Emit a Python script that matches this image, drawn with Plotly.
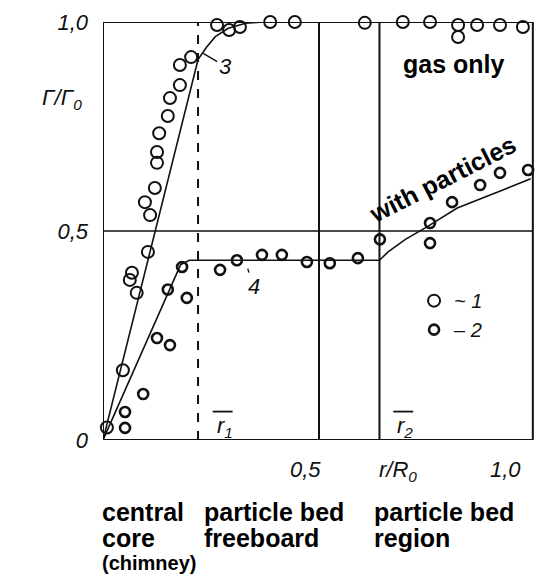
import plotly.graph_objects as go

# ---- data ----
gas_x = [0.009, 0.046, 0.062, 0.067, 0.078, 0.104, 0.097, 0.109, 0.120, 0.125, 0.125,
         0.130, 0.150, 0.155, 0.178, 0.178, 0.204,
         0.264, 0.292, 0.317, 0.359, 0.387, 0.417, 0.444, 0.479, 0.514, 0.542, 0.572,
         0.606, 0.637, 0.694, 0.757, 0.822, 0.822, 0.866, 0.919, 0.972]
gas_y = [0.030, 0.167, 0.383, 0.400, 0.352, 0.450, 0.569, 0.538, 0.603, 0.663, 0.689,
         0.734, 0.775, 0.818, 0.849, 0.897, 0.916,
         0.993, 0.981, 0.988, 1.005, 1.000, 1.017, 1.000, 1.005, 1.005, 1.005, 1.005,
         0.998, 1.010, 1.000, 1.000, 0.993, 0.964, 0.993, 0.993, 0.988]

part_x = [0.051, 0.051, 0.093, 0.125, 0.155, 0.150, 0.183, 0.194, 0.271, 0.310, 0.368,
          0.414, 0.472, 0.525, 0.590, 0.641, 0.757, 0.757, 0.808, 0.873, 0.919, 0.984]
part_y = [0.029, 0.067, 0.110, 0.244, 0.227, 0.360, 0.414, 0.340, 0.407, 0.430, 0.443,
          0.443, 0.426, 0.423, 0.435, 0.480, 0.471, 0.519, 0.569, 0.610, 0.639, 0.646]

# fitted curves "3" (gas only) and "4" (with particles)
curve3_x = [0.0, 0.22, 0.24, 0.26, 0.29, 0.33, 0.37]
curve3_y = [0.0, 0.91, 0.94, 0.965, 0.985, 0.997, 1.0]

curve4_x = [0.0, 0.18, 0.20, 0.64, 0.66, 0.70, 0.75, 0.82, 0.93, 0.99]
curve4_y = [0.0, 0.42, 0.43, 0.43, 0.45, 0.48, 0.51, 0.555, 0.60, 0.625]

r1 = 0.22
r2 = 0.64
x_mid = 0.5
x_right = 0.995
y_half = 0.5

ytick_vals = [0, 0.5, 1.0]
ytick_text = ["0", "0,5", "1,0"]
xtick_vals = [0.5, 1.0]
xtick_text = ["0,5", "1,0"]

series_names = ["~ 1", "– 2"]

INK = "#111111"
FONT = "Liberation Sans"

fig = go.Figure()

fig.add_trace(go.Scatter(x=curve3_x, y=curve3_y, mode="lines", line=dict(color=INK, width=1.6),
                         showlegend=False, hoverinfo="skip", cliponaxis=False))
fig.add_trace(go.Scatter(x=curve4_x, y=curve4_y, mode="lines", line=dict(color=INK, width=1.6),
                         showlegend=False, hoverinfo="skip", cliponaxis=False))

fig.add_trace(go.Scatter(x=gas_x, y=gas_y, mode="markers", name=series_names[0],
                         marker=dict(symbol="circle-open", size=12, color=INK, line=dict(width=2)),
                         cliponaxis=False))
fig.add_trace(go.Scatter(x=part_x, y=part_y, mode="markers", name=series_names[1],
                         marker=dict(symbol="circle-open", size=10, color=INK, line=dict(width=2.6)),
                         cliponaxis=False))

# frame and region lines
line_style = dict(color=INK, width=2)
shapes = [
    dict(type="line", x0=0, x1=0, y0=0, y1=1, line=line_style),
    dict(type="line", x0=0, x1=x_right, y0=0, y1=0, line=line_style),
    dict(type="line", x0=0, x1=x_right, y0=1, y1=1, line=line_style),
    dict(type="line", x0=x_right, x1=x_right, y0=0, y1=1, line=line_style),
    dict(type="line", x0=r1, x1=r1, y0=0, y1=1, line=dict(color=INK, width=2, dash="dash")),
    dict(type="line", x0=x_mid, x1=x_mid, y0=0, y1=1, line=line_style),
    dict(type="line", x0=r2, x1=r2, y0=0, y1=1, line=line_style),
    dict(type="line", x0=0, x1=x_right, y0=y_half, y1=y_half, line=dict(color=INK, width=1.5)),
    # overbars of the r1 / r2 labels
    dict(type="line", x0=0.254, x1=0.300, y0=0.068, y1=0.068, line=dict(color=INK, width=1.8)),
    dict(type="line", x0=0.672, x1=0.718, y0=0.068, y1=0.068, line=dict(color=INK, width=1.8)),
]

ital = dict(family=FONT, size=22, color=INK)
bold = dict(family=FONT, size=25, color="black")

annotations = []
# x tick labels (placed slightly left of their values, as in the original)
for v, t, sh in zip(xtick_vals, xtick_text, [-14, -30]):
    annotations.append(dict(x=v, y=0, xref="x", yref="y", text="<i>" + t + "</i>", showarrow=False,
                            xshift=sh, yshift=-29, font=ital))
annotations += [
    dict(x=0.683, y=0, xref="x", yref="y", text="<i>r/R<sub>0</sub></i>", showarrow=False,
         yshift=-31, font=ital),
    dict(x=-0.146, y=0.815, xref="paper", yref="y", text="<i>Γ/Γ<sub>0</sub></i>", showarrow=False,
         font=ital),
    dict(x=0.282, y=0.03, xref="x", yref="y", text="<i>r<sub>1</sub></i>", showarrow=False, font=ital),
    dict(x=0.700, y=0.03, xref="x", yref="y", text="<i>r<sub>2</sub></i>", showarrow=False, font=ital),
    dict(x=0.232, y=0.925, ax=22, ay=13, xref="x", yref="y", text="<i>3</i>", showarrow=True,
         arrowhead=0, arrowwidth=1.4, arrowcolor=INK, font=ital),
    dict(x=0.335, y=0.41, ax=6, ay=18, xref="x", yref="y", text="<i>4</i>", showarrow=True,
         arrowhead=0, arrowwidth=1.4, arrowcolor=INK, font=ital, standoff=0),
    dict(x=0.812, y=0.90, xref="x", yref="y", text="<b>gas only</b>", showarrow=False, font=bold),
    dict(x=0.785, y=0.625, xref="x", yref="y", text="<b>with particles</b>", showarrow=False,
         textangle=-27, font=bold),
]
bottom = [
    (-0.007, -0.172, "central", 25), (-0.007, -0.234, "core", 25), (-0.007, -0.294, "(chimney)", 20),
    (0.229, -0.172, "particle bed", 25), (0.229, -0.234, "freeboard", 25),
    (0.623, -0.172, "particle bed", 25), (0.623, -0.234, "region", 25),
]
for x, y, t, s in bottom:
    annotations.append(dict(x=x, y=y, xref="paper", yref="paper", text="<b>" + t + "</b>",
                            showarrow=False, xanchor="left", yanchor="middle",
                            font=dict(family=FONT, size=s, color="black")))

fig.update_layout(
    width=541, height=574,
    margin=dict(l=103, r=6, t=22, b=134),
    paper_bgcolor="white", plot_bgcolor="white",
    xaxis=dict(range=[0, 1], showgrid=False, zeroline=False, showline=False, showticklabels=False,
               ticks=""),
    yaxis=dict(range=[0, 1], showgrid=False, zeroline=False, showline=False,
               tickvals=ytick_vals, ticktext=["<i>" + t + "</i>" for t in ytick_text],
               tickfont=ital, ticks="", ticklabelstandoff=14),
    shapes=shapes,
    annotations=annotations,
    showlegend=True,
    legend=dict(x=0.72, y=0.38, xanchor="left", yanchor="top", bgcolor="rgba(0,0,0,0)",
                font=dict(family=FONT, size=20, color=INK, style="italic"), tracegroupgap=4),
)

fig.write_html("out.html")
